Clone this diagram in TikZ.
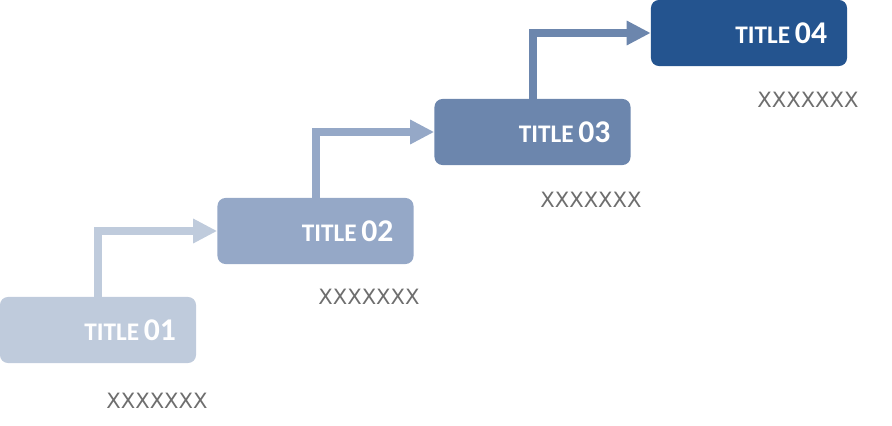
\documentclass[tikz,border=0pt]{standalone}
\usepackage{fontspec}
\setmainfont{Carlito}
\newfontfamily\notefont{DejaVu Sans}
\usepackage{xcolor}
\usetikzlibrary{positioning,arrows.meta}
\definecolor{stepone}{RGB}{191,203,220}
\definecolor{steptwo}{RGB}{149,168,199}
\definecolor{stepthree}{RGB}{108,134,173}
\definecolor{stepfour}{RGB}{36,84,143}
\definecolor{notegray}{RGB}{110,110,110}
\newcommand{\steplabel}[1]{{\fontsize{18}{18}\selectfont TITLE} {\fontsize{22.5}{22.5}\selectfont #1}}

\begin{document}
\begin{tikzpicture}[
    x=0.025cm, y=-0.025cm,
    stepbox/.style={rectangle, rounded corners=0.2cm, minimum width=4.9cm, minimum height=1.65cm, inner xsep=0.5cm, inner ysep=0pt, text width=3.9cm, align=right, text=white, font=\bfseries},
    note/.style={font=\notefont\fontsize{15}{15}\selectfont, text=notegray, inner sep=0pt},
    link/.style={line width=0.2cm, -{Triangle[length=0.6cm, width=0.575cm]}}
    ]
    \path[use as bounding box] (0,0) rectangle (892,426);

    \node[stepbox, fill=stepone] (box1) at (98,330) {\steplabel{01}};
    \node[stepbox, fill=steptwo] (box2) at (315.5,231) {\steplabel{02}};
    \node[stepbox, fill=stepthree] (box3) at (532.5,132) {\steplabel{03}};
    \node[stepbox, fill=stepfour] (box4) at (749,33) {\steplabel{04}};

    \node[note] (note1) at (157,401) {XXXXXXX};
    \node[note] (note2) at (369,297) {XXXXXXX};
    \node[note] (note3) at (591,200) {XXXXXXX};
    \node[note] (note4) at (808,100) {XXXXXXX};

    % elbow arrows climbing from box to box
    \draw[link, draw=stepone] (box1.north) |- (box2.west);
    \draw[link, draw=steptwo] (box2.north) |- (box3.west);
    \draw[link, draw=stepthree] (box3.north) |- (box4.west);
\end{tikzpicture}
\end{document}
